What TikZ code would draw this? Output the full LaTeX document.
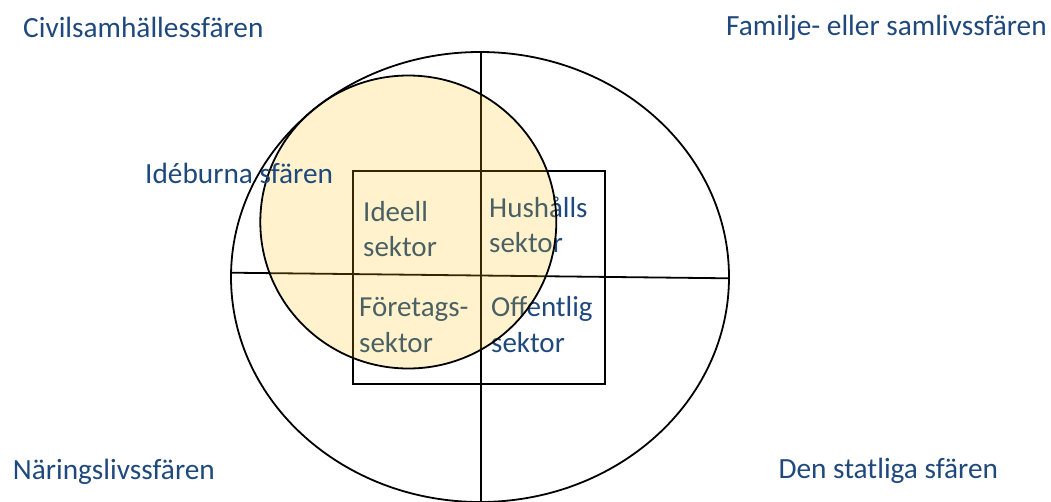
\documentclass[tikz,border=0pt]{standalone}
\usepackage{fontspec}
\setmainfont{Carlito}
\definecolor{txtblue}{HTML}{1F497D}
\definecolor{circfill}{HTML}{FFC000}
\begin{document}
\begin{tikzpicture}[x=1pt,y=-1pt,
  lbl/.style={anchor=base west,inner sep=0pt,text=txtblue,font=\fontsize{29.3}{35}\selectfont},
  sec/.style={anchor=base west,inner sep=0pt,text=txtblue,font=\fontsize{29}{35}\selectfont,align=left},
  shape line/.style={draw=black,line width=1.8pt}]
\useasboundingbox (0,0) rectangle (1051,501);
\clip (0,0) rectangle (1051,501);
% outer ellipse
\draw[shape line] (480,277) ellipse [x radius=249,y radius=225];
% cross lines
\coordinate (vt) at (481,52);
\coordinate (vb) at (481,510);
\coordinate (hl) at (231,272.7);
\coordinate (hr) at (729,278.3);
\draw[shape line] (vt) -- (vb);
\draw[shape line] (hl) -- (hr);
% rectangle
\draw[shape line] (353.3,171) rectangle (605,384.3);
% sector texts
\node[sec] (ideell) at (363,221.7) {Ideell};
\node[sec] (ideell2) at (363,256) {sektor};
\node[sec] (hush) at (489,217.3) {Hushålls};
\node[sec] (hush2) at (489,252.3) {sektor};
\node[sec] (foret) at (359,316.7) {Företags-};
\node[sec] (foret2) at (359,352.7) {sektor};
\node[sec] (off) at (491,316.7) {Offentlig};
\node[sec] (off2) at (491,352.7) {sektor};
% translucent circle
\fill[circfill,fill opacity=0.2] (408.3,222) ellipse [x radius=148,y radius=146.5];
\draw[shape line] (408.3,222) ellipse [x radius=148,y radius=146.5];
% sphere labels
\node[lbl] (civ) at (23,37) {Civilsamhällessfären};
\node[lbl] (fam) at (726,35) {Familje- eller samlivssfären};
\node[lbl] (ide) at (145,183.3) {Idéburna sfären};
\node[lbl] (nar) at (12.7,479) {Näringslivssfären};
\node[lbl] (den) at (778.3,478.3) {Den statliga sfären};
\end{tikzpicture}
\end{document}
